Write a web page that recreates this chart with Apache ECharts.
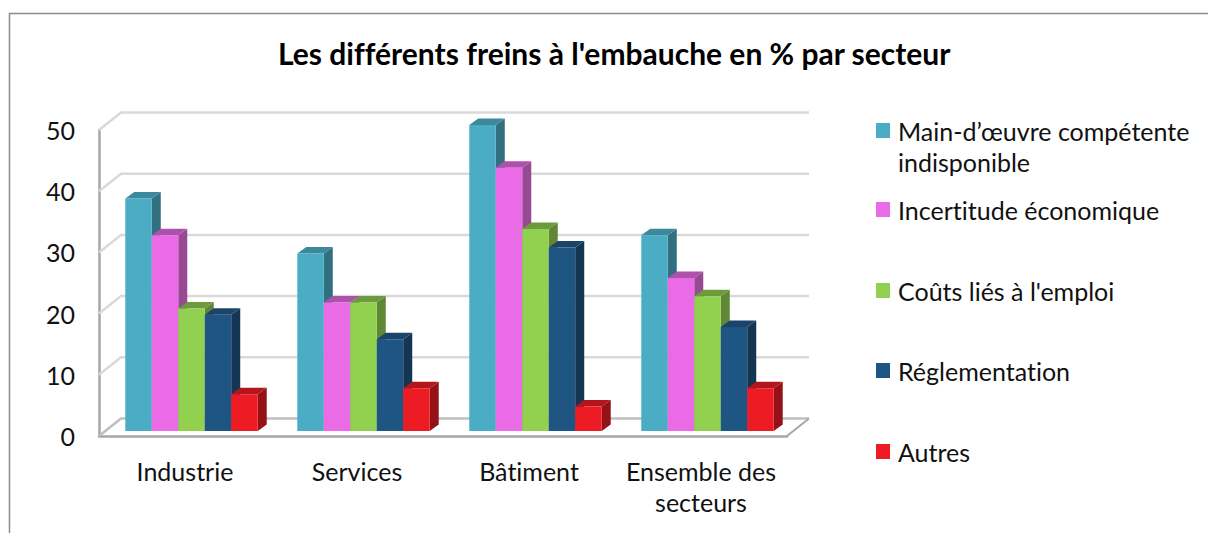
<!DOCTYPE html>
<html>
<head>
<meta charset="utf-8">
<title>Freins à l'embauche</title>
<style>
	html, body { margin: 0; padding: 0; background: #fff; }
	#chart { width: 1208px; height: 533px; }
	#chart text { font-variant-ligatures: none; }
</style>
<script src="https://cdn.jsdelivr.net/npm/echarts@6/dist/echarts.min.js"></script>
</head>
<body>
<div id="chart"></div>
<script>
var titleText = "Les différents freins à l'embauche en % par secteur";
var categories = ['Industrie', 'Services', 'Bâtiment', 'Ensemble des\nsecteurs'];
var yTicks = [0, 10, 20, 30, 40, 50];
var seriesNames = ['Main-d’œuvre compétente indisponible', 'Incertitude économique', 'Coûts liés à l\'emploi', 'Réglementation', 'Autres'];
var mainOeuvre = [38, 29, 50, 32];
var incertitude = [32, 21, 43, 25];
var couts = [20, 21, 33, 22];
var reglementation = [19, 15, 30, 17];
var autres = [6, 7, 4, 7];
var seriesValues = [mainOeuvre, incertitude, couts, reglementation, autres];

// face, dessus, côté de chaque barre
var barColors = [
	['#4BACC6', '#3C889D', '#31707F'],
	['#E96CE6', '#AE51AC', '#974A93'],
	['#92D050', '#6D9A3C', '#5F8734'],
	['#1F5582', '#1B4468', '#163552'],
	['#ED1C24', '#B2151B', '#931117']
];
var legendTops = [79, 189, 270, 350, 431];

var font = 'Lato';
var depthX = 22, depthY = 17.5; // profondeur du mur du fond
var barDepthX = 9, barDepthY = 6.5;
var barShiftX = 6.5, barShiftY = 5;

function poly(points, color) {
	return { type: 'polygon', shape: { points: points }, style: { fill: color } };
}

function barRenderer(index) {
	return function(params, api) {
		var top = api.coord([api.value(0), api.value(1)]);
		var base = api.coord([api.value(0), 0]);
		var w = api.size([1, 0])[0] * 0.154;
		var x = top[0] + barShiftX - w * 2.5 + index * w;
		var y0 = top[1] - barShiftY, y1 = base[1] - barShiftY;
		var c = barColors[index];
		return {
			type: 'group',
			children: [
				poly([[x + w, y1], [x + w + barDepthX, y1 - barDepthY], [x + w + barDepthX, y0 - barDepthY], [x + w, y0]], c[2]),
				poly([[x, y0], [x + barDepthX, y0 - barDepthY], [x + w + barDepthX, y0 - barDepthY], [x + w, y0]], c[1]),
				{ type: 'rect', shape: { x: x, y: y0, width: w, height: y1 - y0 }, style: { fill: c[0] } }
			]
		};
	};
}

// murs et plancher en fausse 3D, calés sur les graduations
function wallRenderer(params, api) {
	var rect = params.coordSys;
	var y = api.coord([0, api.value(1)])[1];
	var isFloor = api.value(1) === 0;
	return {
		type: 'polyline',
		shape: { points: [[rect.x, y], [rect.x + depthX, y - depthY], [rect.x + rect.width + depthX, y - depthY]] },
		style: { fill: null, stroke: isFloor ? '#bfbfbf' : '#d9d9d9', lineWidth: isFloor ? 2.5 : 2.5 }
	};
}

function floorEdgeRenderer(params, api) {
	var rect = params.coordSys;
	var y = api.coord([0, 0])[1];
	var x = rect.x + rect.width;
	return {
		type: 'line',
		shape: { x1: x, y1: y, x2: x + depthX, y2: y - depthY },
		style: { stroke: '#a6a6a6', lineWidth: 2 }
	};
}

var series = [{
	type: 'custom',
	silent: true,
	renderItem: wallRenderer,
	encode: { x: 0, y: 1 },
	data: yTicks.map(function(t) { return [0, t]; }),
	z: 1
}, {
	type: 'custom',
	silent: true,
	renderItem: floorEdgeRenderer,
	encode: { x: 0, y: 1 },
	data: [[0, 0]],
	z: 1
}];

seriesNames.forEach(function(name, i) {
	series.push({
		name: name,
		type: 'custom',
		renderItem: barRenderer(i),
		encode: { x: 0, y: 1 },
		itemStyle: { color: barColors[i][0] },
		data: seriesValues[i].map(function(v, k) { return [k, v]; }),
		z: 2
	});
});

var legends = seriesNames.map(function(name, i) {
	return {
		left: 871,
		top: legendTops[i],
		data: [name],
		icon: 'rect',
		itemWidth: 14,
		itemHeight: 15,
		itemGap: 0,
		selectedMode: false,
		formatter: function(n) {
			// ligne vide en tête : le carré reste en face de la première ligne
			return i === 0 ? ' \nMain-d’œuvre compétente\nindisponible' : n;
		},
		textStyle: { fontFamily: font, fontSize: 25, color: '#111', lineHeight: 31, padding: [0, 0, 0, 3] }
	};
});

var chart = echarts.init(document.getElementById('chart'), null, { renderer: 'svg' });
chart.setOption({
	animation: false,
	backgroundColor: '#fff',
	title: {
		text: titleText,
		left: 273,
		top: 33,
		textStyle: { fontFamily: font, fontSize: 30, fontWeight: 'bold', color: '#000' }
	},
	legend: legends,
	grid: { left: 99, top: 130, width: 688, height: 306 },
	xAxis: {
		type: 'category',
		data: categories,
		axisTick: { show: false },
		axisLine: { lineStyle: { color: '#a6a6a6', width: 2.5 } },
		axisLabel: { interval: 0, fontFamily: font, fontSize: 25, color: '#111', lineHeight: 31, margin: 19 }
	},
	yAxis: {
		type: 'value',
		min: 0,
		max: 50,
		interval: 10,
		splitLine: { show: false },
		axisTick: { show: false },
		axisLine: { show: true, lineStyle: { color: '#a6a6a6', width: 2.5 } },
		axisLabel: { fontFamily: font, fontSize: 25, color: '#111', margin: 24, padding: [2, 0, 0, 0] }
	},
	graphic: [{
		type: 'polyline',
		silent: true,
		shape: { points: [[9.5, 533], [9.5, 13.5], [1208, 13.5]] },
		style: { fill: null, stroke: '#8c8c8c', lineWidth: 1.5 }
	}],
	series: series
});
</script>
</body>
</html>
